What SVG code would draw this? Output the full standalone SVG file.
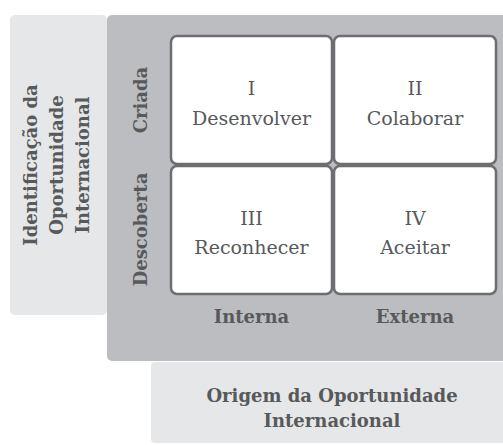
<svg xmlns="http://www.w3.org/2000/svg" width="503" height="445" viewBox="0 0 503 445">
<style>
.light{fill:#e6e7e8}
.dark{fill:#bcbdc0}
.cell rect{fill:#ffffff;stroke:#6d6e71;stroke-width:2.5}
.t{font-family:"DejaVu Serif","Liberation Serif",serif;fill:#58595b;text-anchor:middle}
.c{font-size:19px}
.b{font-size:18px;font-weight:bold}
</style>
<rect width="503" height="445" fill="#ffffff"/>
<g id="panel-identificacao">
<rect class="light" x="10" y="15" width="97" height="300" rx="5"/>
<text class="t b" transform="translate(37,165) rotate(-90)">Identificação da</text>
<text class="t b" transform="translate(63,165) rotate(-90)">Oportunidade</text>
<text class="t b" transform="translate(89,165) rotate(-90)">Internacional</text>
</g>
<g id="panel-matriz">
<rect class="dark" x="107" y="15" width="400" height="346" rx="5"/>
<text class="t b" transform="translate(147,100) rotate(-90)">Criada</text>
<text class="t b" transform="translate(147,229.5) rotate(-90)">Descoberta</text>
<text class="t b" x="251.5" y="323">Interna</text>
<text class="t b" x="415" y="323">Externa</text>
</g>
<g id="panel-origem">
<rect class="light" x="151" y="362" width="360" height="81" rx="4"/>
<text class="t b" x="332" y="402">Origem da Oportunidade</text>
<text class="t b" x="332" y="427">Internacional</text>
</g>
<g id="cell-I" class="cell">
<rect x="171" y="36" width="161" height="128" rx="6"/>
<text class="t c" x="251.5" y="95">I</text>
<text class="t c" x="251.5" y="125">Desenvolver</text>
</g>
<g id="cell-II" class="cell">
<rect x="334" y="36" width="162" height="128" rx="6"/>
<text class="t c" x="415" y="95">II</text>
<text class="t c" x="415" y="125">Colaborar</text>
</g>
<g id="cell-III" class="cell">
<rect x="171" y="166" width="161" height="128" rx="6"/>
<text class="t c" x="251.5" y="225">III</text>
<text class="t c" x="251.5" y="254">Reconhecer</text>
</g>
<g id="cell-IV" class="cell">
<rect x="334" y="166" width="162" height="128" rx="6"/>
<text class="t c" x="415" y="225">IV</text>
<text class="t c" x="415" y="254">Aceitar</text>
</g>
<g id="connectors"></g>
</svg>
